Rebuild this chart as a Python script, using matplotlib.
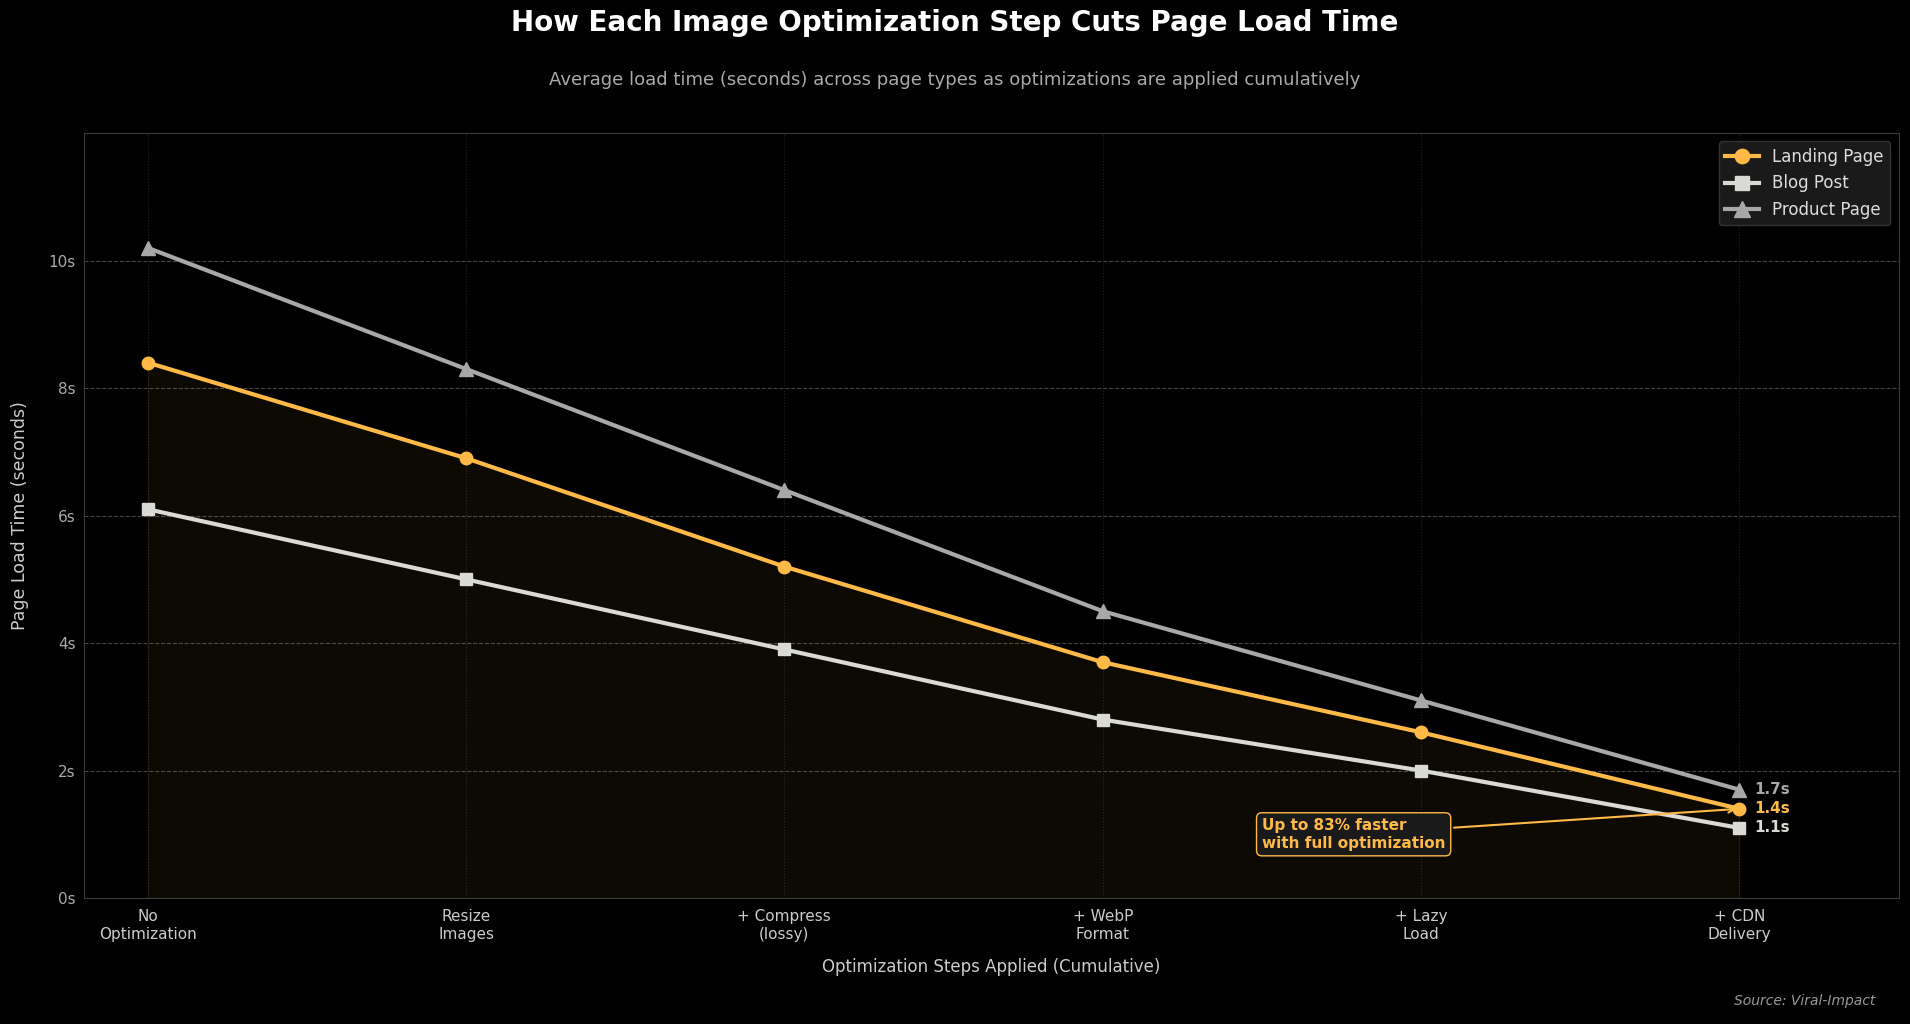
import numpy as np
import matplotlib.pyplot as plt

steps = ["No\nOptimization", "Resize\nImages", "+ Compress\n(lossy)", "+ WebP\nFormat", "+ Lazy\nLoad", "+ CDN\nDelivery"]
landing = [8.4, 6.9, 5.2, 3.7, 2.6, 1.4]
blog = [6.1, 5.0, 3.9, 2.8, 2.0, 1.1]
product = [10.2, 8.3, 6.4, 4.5, 3.1, 1.7]

c_land = "#FFB946"
c_blog = "#D9D9D6"
c_prod = "#A8A8A8"

x = np.arange(len(steps))

fig = plt.figure(figsize=(19.1, 10.24), dpi=100, facecolor="black")
ax = fig.add_axes([0.044, 0.123, 0.950, 0.747], facecolor="black")

ax.fill_between(x, landing, 0, color=c_land, alpha=0.055, zorder=1)
ax.plot(x, product, color=c_prod, lw=3, marker="^", ms=10, label="Product Page", zorder=3)
ax.plot(x, blog, color=c_blog, lw=3, marker="s", ms=9, label="Blog Post", zorder=3)
ax.plot(x, landing, color=c_land, lw=3, marker="o", ms=9, label="Landing Page", zorder=4)

# end labels
for vals, col in [(product, c_prod), (landing, c_land), (blog, c_blog)]:
    ax.annotate(f"{vals[-1]:.1f}s", (x[-1], vals[-1]), xytext=(11, 0), textcoords="offset points",
                color=col, fontsize=11, fontweight="bold", va="center", ha="left")

ax.annotate("Up to 83% faster\nwith full optimization", xy=(x[-1], landing[-1]), xytext=(3.5, 1.0),
            color=c_land, fontsize=11, fontweight="bold", va="center", ha="left",
            bbox=dict(boxstyle="round,pad=0.35", fc="#1a1a1a", ec=c_land, lw=1),
            arrowprops=dict(arrowstyle="->", color=c_land, lw=1.5), zorder=5)

ax.set_xlim(-0.2, 5.5)
ax.set_ylim(0, 12)
ax.set_yticks(range(0, 11, 2))
ax.set_yticklabels([f"{v}s" for v in range(0, 11, 2)])
ax.set_xticks(x)
ax.set_xticklabels(steps)
ax.tick_params(axis="x", colors="#cccccc", labelsize=11, length=0, pad=8)
ax.tick_params(axis="y", colors="#aaaaaa", labelsize=11, length=0, pad=6)

ax.grid(axis="y", color="#444444", ls="--", lw=0.8)
ax.grid(axis="x", color="#222222", ls=":", lw=0.8)
ax.set_axisbelow(True)
for s in ax.spines.values():
    s.set_color("#3a3a3a")

ax.set_xlabel("Optimization Steps Applied (Cumulative)", color="#cccccc", fontsize=12, labelpad=12)
ax.set_ylabel("Page Load Time (seconds)", color="#cccccc", fontsize=12.5, labelpad=14)

h, l = ax.get_legend_handles_labels()
leg = ax.legend(h[::-1], l[::-1], loc="upper right", fontsize=12, facecolor="#1a1a1a",
                edgecolor="#333333", framealpha=1, labelcolor="#dddddd", markerscale=1.15)

fig.text(0.5, 0.978, "How Each Image Optimization Step Cuts Page Load Time", color="white",
         fontsize=20, fontweight="bold", ha="center", va="center")
fig.text(0.5, 0.922, "Average load time (seconds) across page types as optimizations are applied cumulatively",
         color="#aaaaaa", fontsize=13, ha="center", va="center")
fig.text(0.982, 0.016, "Source: Viral-Impact", color="#999999", fontsize=10, style="italic",
         ha="right", va="bottom")

fig.savefig("out.png", dpi=100, facecolor="black")
